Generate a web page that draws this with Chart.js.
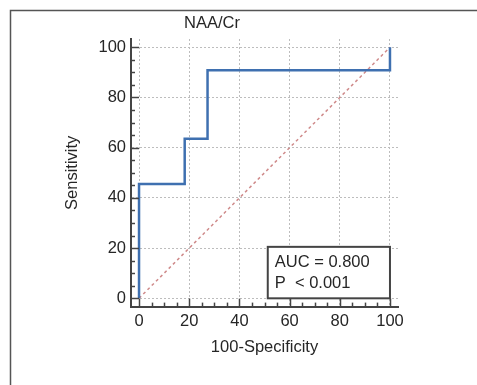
<!DOCTYPE html>
<html>
<head>
<meta charset="utf-8">
<script src="https://cdn.jsdelivr.net/npm/chart.js@4/dist/chart.umd.min.js"></script>
<style>
  html, body { margin: 0; padding: 0; background: #fff; }
  canvas { display: block; }
</style>
</head>
<body>
<canvas id="myChart" width="477" height="385"></canvas>
<script>
// ROC curve corners (100-Specificity, Sensitivity)
const rocX = [0, 0, 18.2, 18.2, 27.3, 27.3, 100, 100];
const rocY = [0, 45.5, 45.5, 63.6, 63.6, 90.9, 90.9, 100];
const diagX = [0, 100];
const diagY = [0, 100];
const tickValues = [0, 20, 40, 60, 80, 100];
const chartTitle = "NAA/Cr";
const statLines = ["AUC = 0.800", "P  < 0.001"];

const font = "Liberation Sans, Arial, sans-serif";
const fontSize = 16.5;
const textColor = "#262626";

function toPoints(xs, ys) {
  return xs.map(function (x, i) { return { x: x, y: ys[i] }; });
}

const decorations = {
  id: "decorations",
  afterDraw: function (chart) {
    const c = chart.ctx;
    const xs = chart.scales.x;
    const ys = chart.scales.y;
    const area = chart.chartArea;
    c.save();

    // outer frame (cropped)
    c.strokeStyle = "#555";
    c.lineWidth = 1.5;
    c.beginPath();
    c.moveTo(10.5, 385);
    c.lineTo(10.5, 10.5);
    c.lineTo(477, 10.5);
    c.stroke();

    // tick marks, pointing into the plot
    c.strokeStyle = "#444";
    c.lineWidth = 1.5;
    for (let v = 0; v <= 100; v += 5) {
      const len = v % 20 === 0 ? 8 : 4;
      const px = Math.round(xs.getPixelForValue(v)) + 0.5;
      c.beginPath();
      c.moveTo(px, area.bottom);
      c.lineTo(px, area.bottom - len);
      c.stroke();
      const py = Math.round(ys.getPixelForValue(v)) + 0.5;
      c.beginPath();
      c.moveTo(area.left, py);
      c.lineTo(area.left + len, py);
      c.stroke();
    }

    // title
    c.fillStyle = textColor;
    c.font = fontSize + "px " + font;
    c.textAlign = "center";
    c.textBaseline = "alphabetic";
    c.fillText(chartTitle, 212, 28);

    // AUC box
    const bx0 = xs.getPixelForValue(51.3);
    const bx1 = xs.getPixelForValue(100);
    const by0 = ys.getPixelForValue(20.5);
    const by1 = ys.getPixelForValue(0);
    c.fillStyle = "#fff";
    c.fillRect(bx0, by0, bx1 - bx0, by1 - by0);
    c.strokeStyle = "#444";
    c.lineWidth = 2;
    c.strokeRect(bx0, by0, bx1 - bx0, by1 - by0);
    c.fillStyle = textColor;
    c.textAlign = "left";
    c.fillText(statLines[0], bx0 + 7, by0 + 20.5);
    c.fillText(statLines[1], bx0 + 7, by0 + 41.5);

    c.restore();
  },
};

const ctx = document.getElementById("myChart");

var chart = new Chart(ctx, {
  type: "line",
  data: {
    datasets: [
      {
        data: toPoints(rocX, rocY),
        borderColor: "#3f70b0",
        borderWidth: 2.5,
        pointRadius: 0,
        fill: false,
        tension: 0,
      },
      {
        data: toPoints(diagX, diagY),
        borderColor: "#cf8a8a",
        borderWidth: 1.5,
        borderDash: [3, 3],
        pointRadius: 0,
        fill: false,
      },
    ],
  },
  options: {
    responsive: false,
    animation: false,
    layout: { padding: { left: 0, top: 39, right: 79, bottom: 0 } },
    plugins: {
      legend: { display: false },
      tooltip: { enabled: false },
    },
    scales: {
      x: {
        type: "linear",
        min: -3.2,
        max: 103.2,
        afterBuildTicks: function (s) {
          s.ticks = tickValues.map(function (v) { return { value: v }; });
        },
        afterFit: function (s) { s.height = 78.4; },
        grid: { color: "#bdbdbd", lineWidth: 1, drawTicks: false },
        border: { display: true, color: "#444", width: 2, dash: [2, 2] },
        ticks: { padding: 5, color: textColor, font: { size: fontSize, family: font } },
        title: {
          display: true,
          text: "100-Specificity",
          color: textColor,
          font: { size: fontSize, family: font },
          padding: { top: 0, bottom: 28 },
        },
      },
      y: {
        type: "linear",
        min: -3.3,
        max: 103.3,
        afterBuildTicks: function (s) {
          s.ticks = tickValues.map(function (v) { return { value: v }; });
        },
        afterFit: function (s) { s.width = 131; },
        grid: { color: "#bdbdbd", lineWidth: 1, drawTicks: false },
        border: { display: true, color: "#444", width: 2, dash: [2, 2] },
        ticks: { padding: 5, color: textColor, font: { size: fontSize, family: font } },
        title: {
          display: true,
          text: "Sensitivity",
          color: textColor,
          font: { size: fontSize, family: font },
          padding: { top: 63, bottom: 0 },
        },
      },
    },
  },
  plugins: [decorations],
});
</script>
</body>
</html>
